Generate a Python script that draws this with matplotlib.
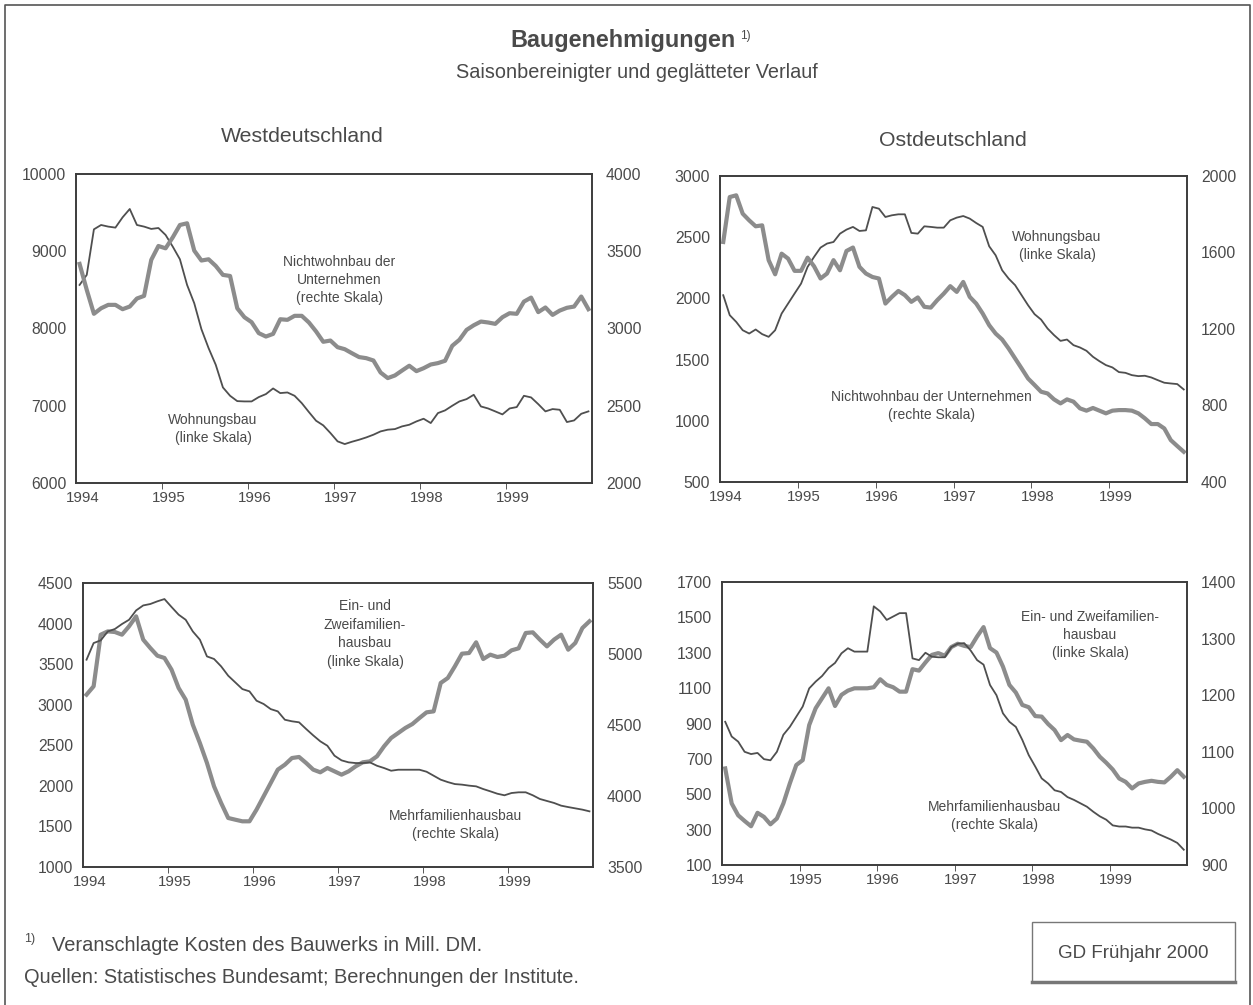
import matplotlib
matplotlib.use("Agg")
import matplotlib.pyplot as plt
import numpy as np

plt.rcParams['font.family'] = ['Liberation Sans', 'DejaVu Sans']

# monthly values 1994-01 .. 1999-12
west_wohnungsbau = [
    8564, 8694, 9284, 9340, 9319, 9306, 9439, 9547, 9340, 9319, 9289, 9301,
    9211, 9060, 8896, 8564, 8327, 7991, 7746, 7530, 7237, 7129, 7060, 7056,
    7056, 7112, 7151, 7224, 7164, 7172, 7129, 7034, 6918, 6806, 6746, 6647,
    6539, 6504, 6534, 6560, 6590, 6625, 6668, 6690, 6698, 6733, 6754, 6797,
    6832, 6776, 6905, 6940, 7000, 7056, 7086, 7142, 6991, 6965, 6927, 6888,
    6965, 6983, 7129, 7108, 7021, 6927, 6957, 6948, 6789, 6810, 6896, 6927]
west_nichtwohnbau = [
    3418, 3250, 3095, 3131, 3153, 3153, 3125, 3142, 3194, 3211, 3444, 3534,
    3519, 3590, 3670, 3681, 3504, 3440, 3448, 3405, 3347, 3340, 3131, 3073,
    3041, 2970, 2948, 2965, 3060, 3056, 3082, 3082, 3039, 2981, 2914, 2922,
    2879, 2866, 2840, 2815, 2808, 2793, 2715, 2679, 2696, 2728, 2759, 2724,
    2743, 2767, 2776, 2791, 2888, 2927, 2991, 3021, 3045, 3039, 3030, 3073,
    3099, 3095, 3174, 3200, 3106, 3136, 3088, 3116, 3134, 3142, 3207, 3125]
ost_wohnungsbau = [
    2026, 1863, 1808, 1740, 1713, 1746, 1708, 1686, 1740, 1876, 1958, 2040,
    2121, 2257, 2339, 2415, 2448, 2461, 2529, 2562, 2584, 2551, 2556, 2747,
    2733, 2665, 2679, 2687, 2687, 2535, 2529, 2589, 2584, 2578, 2578, 2638,
    2660, 2673, 2652, 2616, 2584, 2426, 2352, 2230, 2162, 2108, 2026, 1944,
    1871, 1827, 1754, 1700, 1653, 1664, 1618, 1599, 1572, 1523, 1487, 1455,
    1436, 1398, 1392, 1373, 1365, 1368, 1354, 1332, 1311, 1305, 1300, 1256]
ost_nichtwohnbau = [
    1655, 1890, 1899, 1803, 1768, 1737, 1742, 1560, 1486, 1594, 1568, 1504,
    1504, 1573, 1528, 1464, 1490, 1560, 1507, 1608, 1626, 1525, 1490, 1472,
    1464, 1333, 1368, 1399, 1377, 1342, 1365, 1316, 1312, 1351, 1385, 1424,
    1394, 1446, 1368, 1333, 1281, 1220, 1176, 1145, 1098, 1046, 994, 941,
    907, 872, 863, 832, 811, 832, 820, 785, 773, 787, 773, 759,
    773, 776, 776, 773, 759, 733, 703, 703, 680, 619, 588, 558]
west_einzwei = [
    3124, 3227, 3863, 3904, 3896, 3863, 3966, 4089, 3802, 3699, 3604, 3576,
    3432, 3206, 3062, 2754, 2528, 2282, 1994, 1789, 1604, 1583, 1563, 1563,
    1707, 1871, 2035, 2200, 2261, 2343, 2356, 2282, 2200, 2167, 2220, 2179,
    2138, 2179, 2241, 2290, 2302, 2364, 2487, 2590, 2651, 2713, 2762, 2836,
    2906, 2918, 3268, 3329, 3473, 3629, 3637, 3769, 3563, 3617, 3588, 3604,
    3670, 3695, 3884, 3892, 3802, 3719, 3802, 3863, 3678, 3761, 3945, 4028]
west_mehrfam = [
    4960, 5077, 5096, 5159, 5176, 5211, 5241, 5307, 5342, 5352, 5371, 5387,
    5331, 5277, 5241, 5159, 5101, 4983, 4965, 4913, 4847, 4800, 4753, 4737,
    4671, 4648, 4612, 4596, 4537, 4526, 4519, 4472, 4427, 4385, 4354, 4284,
    4251, 4237, 4232, 4232, 4237, 4213, 4197, 4178, 4185, 4185, 4185, 4185,
    4171, 4143, 4115, 4098, 4084, 4080, 4073, 4068, 4049, 4033, 4016, 4005,
    4021, 4026, 4026, 4005, 3979, 3965, 3951, 3932, 3922, 3913, 3904, 3892]
ost_einzwei = [
    646, 448, 381, 349, 319, 395, 372, 330, 363, 448, 561, 665,
    693, 891, 986, 1043, 1099, 999, 1062, 1086, 1099, 1099, 1099, 1105,
    1150, 1118, 1105, 1080, 1080, 1207, 1199, 1245, 1288, 1298, 1283, 1332,
    1351, 1339, 1332, 1392, 1445, 1326, 1301, 1222, 1118, 1075, 1005, 992,
    942, 939, 897, 863, 806, 835, 810, 803, 797, 759, 712, 678,
    640, 589, 570, 533, 561, 570, 576, 570, 567, 599, 636, 599]
ost_mehrfam = [
    1153, 1127, 1118, 1100, 1096, 1098, 1087, 1085, 1100, 1130, 1144, 1162,
    1180, 1212, 1224, 1234, 1248, 1257, 1274, 1283, 1277, 1277, 1277, 1357,
    1348, 1333, 1339, 1345, 1345, 1265, 1262, 1275, 1268, 1267, 1267, 1285,
    1291, 1292, 1279, 1262, 1254, 1218, 1200, 1168, 1153, 1144, 1121, 1094,
    1074, 1053, 1044, 1032, 1029, 1020, 1015, 1009, 1003, 994, 986, 980,
    970, 968, 968, 966, 966, 963, 961, 955, 950, 945, 939, 927]

years = [1994, 1995, 1996, 1997, 1998, 1999]
months = 1994 + (np.arange(72) + 0.5) / 12

TXT = '#4a4a4a'
THICK = '#8c8c8c'
THIN = '#4f4f4f'
SPINE = '#3c3c3c'

fig = plt.figure(figsize=(12.53, 10.05), dpi=100)
W, H = 1253, 1005

def px_axes(x0, y0, x1, y1):
    return fig.add_axes([x0 / W, 1 - y1 / H, (x1 - x0) / W, (y1 - y0) / H])

def panel(box, thin, thick, thin_right, lim_l, step_l, lim_r, step_r, labels):
    ax = px_axes(*box)
    ax2 = ax.twinx()
    if thin_right:
        ax2.plot(months, thin, color=THIN, lw=1.3, zorder=3)
        ax.plot(months, thick, color=THICK, lw=3.0, zorder=2)
    else:
        ax.plot(months, thin, color=THIN, lw=1.3, zorder=3)
        ax2.plot(months, thick, color=THICK, lw=3.0, zorder=2)
    ax.set_xlim(1994, 2000)
    ax.set_ylim(*lim_l)
    ax2.set_ylim(*lim_r)
    ax.set_yticks(np.arange(lim_l[0], lim_l[1] + 1, step_l))
    ax2.set_yticks(np.arange(lim_r[0], lim_r[1] + 1, step_r))
    ax.set_xticks([y + 0.08 for y in years], [str(y) for y in years])
    ax.set_xticks(years[1:], minor=True)
    ax.tick_params(axis='x', which='major', length=0, pad=6, labelsize=10.8, labelcolor=TXT)
    ax.tick_params(axis='x', which='minor', length=4, direction='out', color=SPINE)
    ax.tick_params(axis='y', length=0, pad=7, labelsize=11.3, labelcolor=TXT)
    ax2.tick_params(axis='y', length=0, pad=10, labelsize=11.3, labelcolor=TXT)
    for a in (ax, ax2):
        for s in a.spines.values():
            s.set_color(SPINE)
            s.set_linewidth(1.2)
    for (x, y, s) in labels:
        fig.text(x / W, 1 - y / H, s, ha='center', va='center', fontsize=10,
                 color=TXT, linespacing=1.4)
    return ax

panel((76, 174, 592, 483), west_wohnungsbau, west_nichtwohnbau, False,
      (6000, 10000), 1000, (2000, 4000), 500,
      [(339, 280, 'Nichtwohnbau der\nUnternehmen\n(rechte Skala)'),
       (213, 429, 'Wohnungsbau\n(linke Skala)')])
panel((720, 176, 1187, 482), ost_wohnungsbau, ost_nichtwohnbau, False,
      (500, 3000), 500, (400, 2000), 400,
      [(1057, 246, 'Wohnungsbau\n(linke Skala)'),
       (931, 406, 'Nichtwohnbau der Unternehmen\n(rechte Skala)')])
panel((83, 583, 593, 867), west_mehrfam, west_einzwei, True,
      (1000, 4500), 500, (3500, 5500), 500,
      [(365, 634, 'Ein- und\nZweifamilien-\nhausbau\n(linke Skala)'),
       (455, 825, 'Mehrfamilienhausbau\n(rechte Skala)')])
panel((722, 582, 1187, 865), ost_mehrfam, ost_einzwei, True,
      (100, 1700), 200, (900, 1400), 100,
      [(1090, 635, 'Ein- und Zweifamilien-\nhausbau\n(linke Skala)'),
       (995, 816, 'Mehrfamilienhausbau\n(rechte Skala)')])

# titles
fig.text(623 / W, 1 - 41 / H, 'Baugenehmigungen', ha='center', va='center',
         fontsize=16.8, fontweight='bold', color=TXT)
fig.text(740 / W, 1 - 36 / H, '1)', ha='left', va='center', fontsize=8.5, color=TXT)
fig.text(637 / W, 1 - 72 / H, 'Saisonbereinigter und geglätteter Verlauf', ha='center',
         va='center', fontsize=14.3, color=TXT)
fig.text(302 / W, 1 - 136 / H, 'Westdeutschland', ha='center', va='center',
         fontsize=15.3, color=TXT)
fig.text(953 / W, 1 - 140 / H, 'Ostdeutschland', ha='center', va='center',
         fontsize=15.3, color=TXT)

# footnotes
fig.text(24 / W, 1 - 939 / H, '1)', ha='left', va='center', fontsize=9, color=TXT)
fig.text(52 / W, 1 - 945 / H, 'Veranschlagte Kosten des Bauwerks in Mill. DM.',
         ha='left', va='center', fontsize=14.4, color=TXT)
fig.text(24 / W, 1 - 977 / H, 'Quellen: Statistisches Bundesamt; Berechnungen der Institute.',
         ha='left', va='center', fontsize=14.4, color=TXT)
fig.text(1133 / W, 1 - 953 / H, 'GD Frühjahr 2000', ha='center', va='center',
         fontsize=13.5, color=TXT)

# frame lines and source box
fig.add_artist(plt.Line2D([5 / W, 5 / W, 1250 / W, 1250 / W], [0, 1 - 5 / H, 1 - 5 / H, 0],
                          transform=fig.transFigure, color='#555555', lw=1.2))
fig.add_artist(plt.Rectangle((1032 / W, 1 - 982 / H), 203 / W, 60 / H,
                             transform=fig.transFigure, fill=False,
                             edgecolor='#777777', lw=1.0))
fig.add_artist(plt.Line2D([1032 / W, 1235 / W], [1 - 982 / H, 1 - 982 / H],
                          transform=fig.transFigure, color='#777777', lw=2.5))

fig.savefig('out.png', dpi=100, facecolor='white')
